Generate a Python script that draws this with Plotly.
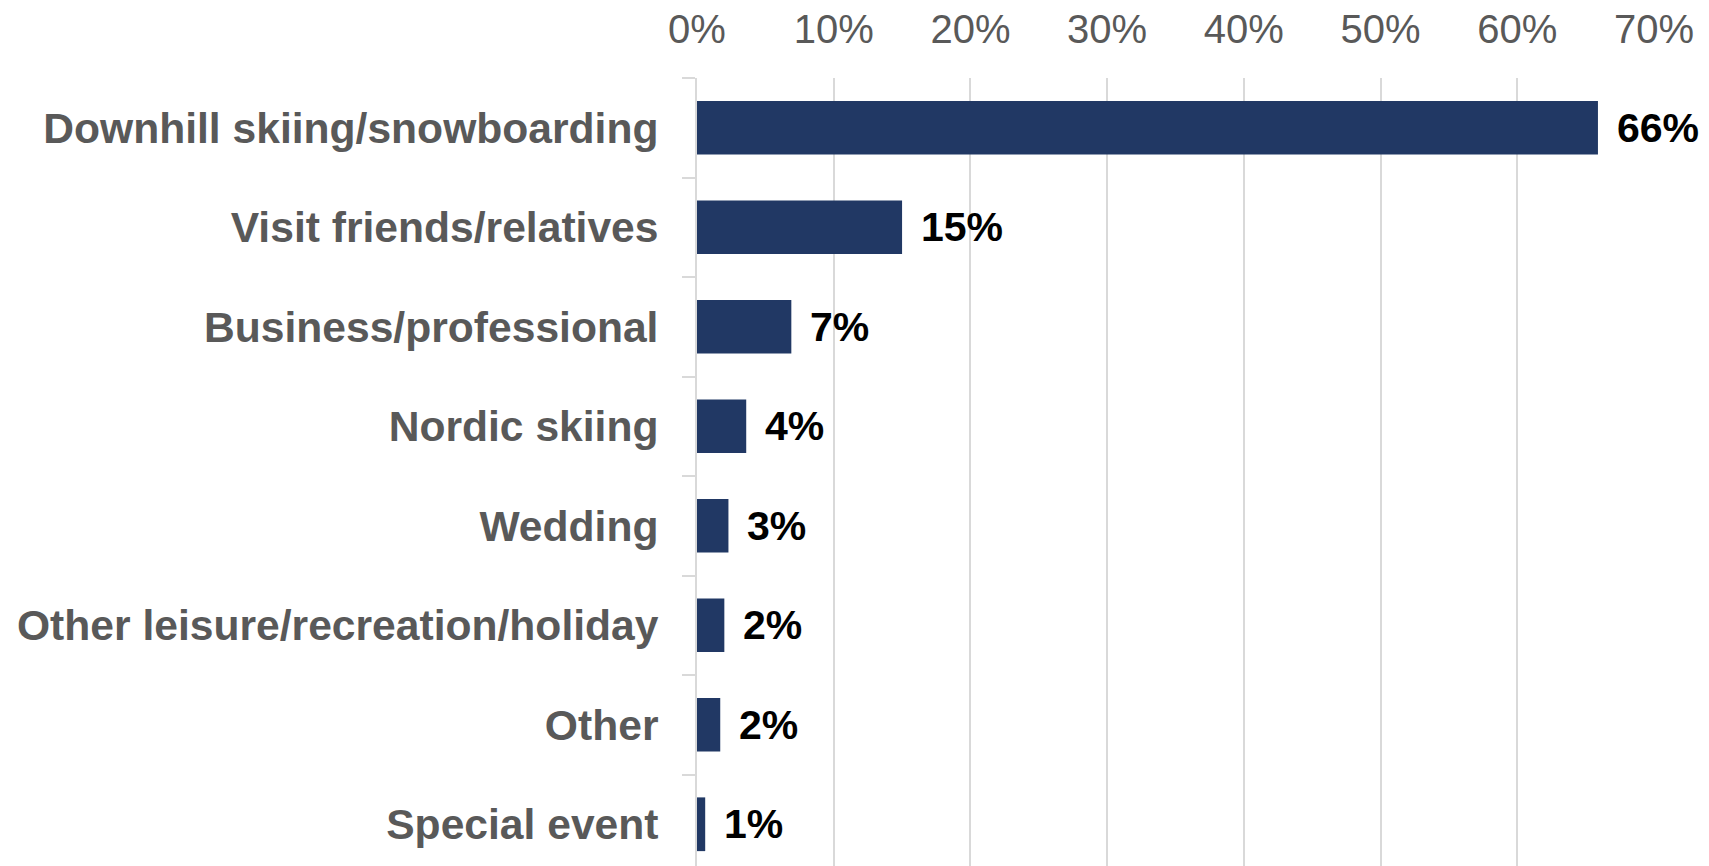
import plotly.graph_objects as go

categories = [
    "Downhill skiing/snowboarding",
    "Visit friends/relatives",
    "Business/professional",
    "Nordic skiing",
    "Wedding",
    "Other leisure/recreation/holiday",
    "Other",
    "Special event",
]
values = [65.9, 15.0, 6.9, 3.6, 2.3, 2.0, 1.7, 0.6]
value_labels = ["66%", "15%", "7%", "4%", "3%", "2%", "2%", "1%"]
x_ticks = [0, 10, 20, 30, 40, 50, 60, 70]
x_tick_labels = ["0%", "10%", "20%", "30%", "40%", "50%", "60%", "70%"]

FONT = "Liberation Sans, Arial, sans-serif"
BAR = "#213864"
GRID = "#d9d9d9"

fig = go.Figure()
fig.add_trace(go.Bar(
    x=values,
    y=categories,
    orientation="h",
    marker=dict(color=BAR, line=dict(width=0)),
    hoverinfo="skip",
))

for v, c, t in zip(values, categories, value_labels):
    fig.add_annotation(
        x=v, y=c, text=t, showarrow=False,
        xanchor="left", yanchor="middle", xshift=17,
        font=dict(family=FONT, size=41, color="#000000", weight="bold"),
    )

fig.update_layout(
    width=1709, height=866,
    margin=dict(l=689, r=63, t=70, b=0),
    paper_bgcolor="white", plot_bgcolor="white",
    bargap=0.46,
    showlegend=False,
)
fig.update_xaxes(
    side="top",
    range=[0, 70],
    tickvals=x_ticks,
    ticktext=x_tick_labels,
    showgrid=True, gridcolor=GRID, gridwidth=2,
    zeroline=False, showline=False, ticks="",
    ticklabelstandoff=26,
    automargin=False,
    tickfont=dict(family=FONT, size=40, color="#595959"),
    fixedrange=True,
)
fig.update_yaxes(
    autorange="reversed",
    showgrid=False, zeroline=False,
    showline=True, linecolor=GRID, linewidth=2,
    ticks="outside", tickson="boundaries", ticklen=13, tickwidth=2, tickcolor=GRID,
    ticklabelstandoff=28,
    automargin=False,
    tickfont=dict(family=FONT, size=42.6, color="#595959", weight="bold"),
    fixedrange=True,
)

fig.write_html("out.html")
